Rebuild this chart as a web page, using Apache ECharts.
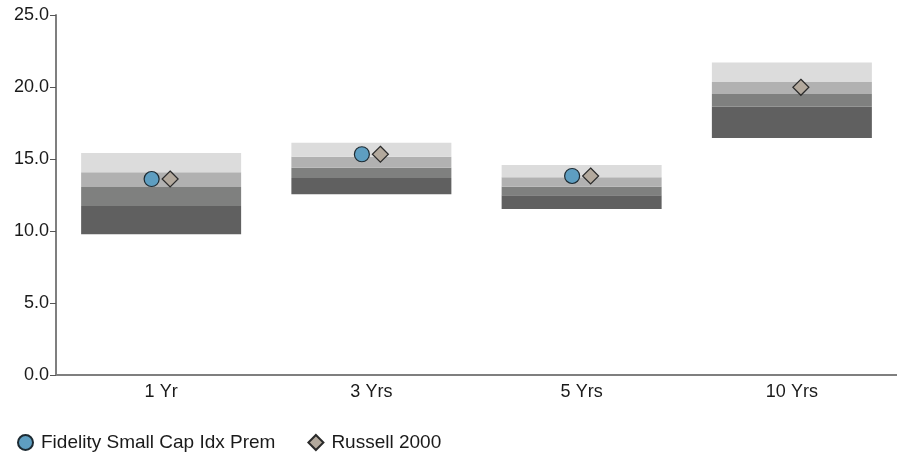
<!DOCTYPE html>
<html>
<head>
<meta charset="utf-8">
<script src="https://cdn.jsdelivr.net/npm/echarts@6/dist/echarts.min.js"></script>
<style>
html,body{margin:0;padding:0;background:#fff;}
#chart{width:897px;height:455px;}
</style>
</head>
<body>
<div id="chart"></div>
<script>
var categories = ['1 Yr', '3 Yrs', '5 Yrs', '10 Yrs'];
// band boundaries per category (bottom -> top)
var bandBottom = [9.77, 12.55, 11.53, 16.46];
var band1Top   = [11.74, 13.68, 12.48, 18.63];
var band2Top   = [13.06, 14.40, 13.08, 19.51];
var band3Top   = [14.08, 15.16, 13.73, 20.35];
var bandTop    = [15.42, 16.13, 14.58, 21.71];
var fundValues  = [13.61, 15.33, 13.82, null];
var indexValues = [13.61, 15.33, 13.82, 19.98];
var yTicks = [0, 5, 10, 15, 20, 25];
var seriesNames = ['Fidelity Small Cap Idx Prem', 'Russell 2000'];

function diff(a, b) { return a.map(function (v, i) { return +(v - b[i]).toFixed(3); }); }

var FONT = '"Liberation Sans", Arial, sans-serif';
var bandColors = ['#606060', '#7f807f', '#b1b1b1', '#dcdcdc'];
var bandSeries = [
  { data: bandBottom, color: 'transparent' },
  { data: diff(band1Top, bandBottom), color: bandColors[0] },
  { data: diff(band2Top, band1Top), color: bandColors[1] },
  { data: diff(band3Top, band2Top), color: bandColors[2] },
  { data: diff(bandTop, band3Top), color: bandColors[3] }
].map(function (s, i) {
  return {
    name: 'band' + i, type: 'bar', stack: 'b', barWidth: 160,
    data: s.data, silent: true, z: 1,
    itemStyle: { color: s.color }
  };
});

var chart = echarts.init(document.getElementById('chart'));
chart.setOption({
  animation: false,
  grid: { left: 56, right: -6, top: 15, bottom: 80 },
  legend: {
    left: 12, top: 428, itemWidth: 15, itemHeight: 15, itemGap: 32,
    data: [{ name: seriesNames[0], icon: 'circle' }, { name: seriesNames[1], icon: 'diamond' }],
    textStyle: { fontFamily: FONT, fontSize: 19, color: '#1a1a1a', padding: [0, 0, 0, 3] }
  },
  xAxis: {
    type: 'category', data: categories,
    axisLine: { lineStyle: { color: '#7f7f7f', width: 2 } },
    axisTick: { alignWithLabel: true, length: 6, lineStyle: { color: '#555', width: 1 } },
    axisLabel: { fontFamily: FONT, fontSize: 18, color: '#1a1a1a', margin: 8 },
    splitLine: { show: false }
  },
  yAxis: {
    type: 'value', min: yTicks[0], max: yTicks[yTicks.length - 1], interval: 5,
    axisLine: { show: true, lineStyle: { color: '#7f7f7f', width: 2 } },
    axisTick: { show: true, length: 6, lineStyle: { color: '#555', width: 1 } },
    axisLabel: { fontFamily: FONT, fontSize: 18, color: '#1a1a1a', margin: 7,
      formatter: function (v) { return v.toFixed(1); } },
    splitLine: { show: false }
  },
  series: bandSeries.concat([
    {
      name: seriesNames[0], type: 'scatter', data: fundValues, z: 5,
      symbol: 'circle', symbolSize: 15, symbolOffset: [-9.5, 0],
      itemStyle: { color: '#5e9ec1', borderColor: '#1d2b33', borderWidth: 1.2, opacity: 1 }
    },
    {
      name: seriesNames[1], type: 'scatter', data: indexValues, z: 5,
      symbol: 'diamond', symbolSize: 16, symbolOffset: [9, 0],
      itemStyle: { color: '#b3a99d', borderColor: '#2a2a2a', borderWidth: 1.2, opacity: 1 }
    }
  ])
});
</script>
</body>
</html>
